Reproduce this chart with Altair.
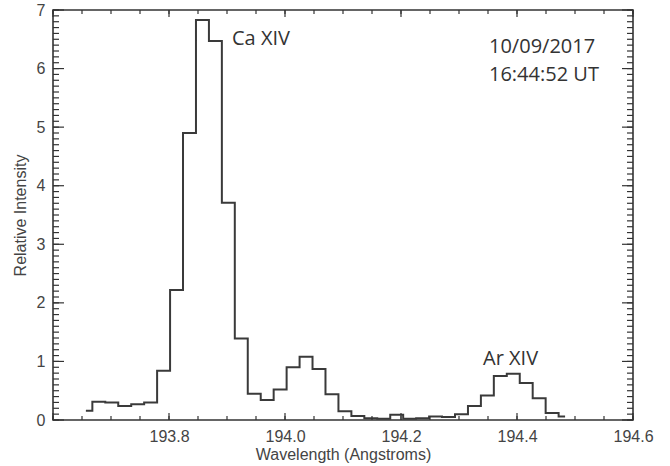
import altair as alt
import pandas as pd

# Spectrum (bin centres, Angstrom) and relative intensity
wavelength = [193.6567, 193.6790, 193.7013, 193.7237, 193.7460, 193.7683, 193.7907,
              193.8130, 193.8353, 193.8577, 193.8800, 193.9023, 193.9246, 193.9470,
              193.9693, 193.9916, 194.0140, 194.0363, 194.0586, 194.0810, 194.1033,
              194.1256, 194.1479, 194.1703, 194.1926, 194.2149, 194.2373, 194.2596,
              194.2819, 194.3043, 194.3266, 194.3489, 194.3712, 194.3936, 194.4159,
              194.4382, 194.4606, 194.4829]
intensity = [0.16, 0.31, 0.30, 0.24, 0.27, 0.30, 0.84, 2.22, 4.90, 6.83, 6.47, 3.71,
             1.39, 0.45, 0.34, 0.52, 0.90, 1.08, 0.87, 0.44, 0.15, 0.07, 0.03, 0.02,
             0.09, 0.02, 0.03, 0.06, 0.05, 0.10, 0.24, 0.42, 0.75, 0.79, 0.63, 0.37,
             0.12, 0.06]

# Axis ticks / labels
x_labels = [193.8, 194.0, 194.2, 194.4, 194.6]
x_major = [193.6, 193.8, 194.0, 194.2, 194.4, 194.6]
x_minor = [round(193.6 + i * 0.05, 2) for i in range(21)]
y_major = [0, 1, 2, 3, 4, 5, 6, 7]
y_minor = [round(i * 0.1, 1) for i in range(71)]

# Annotations
ann_text = ["Ca XIV", "Ar XIV", "10/09/2017", "16:44:52 UT"]
ann_x = [193.9086, 194.3414, 194.3517, 194.3517]
ann_y = [6.40, 0.94, 6.27, 5.79]

df = pd.DataFrame({"wavelength": wavelength, "intensity": intensity})
ann = pd.DataFrame({"x": ann_x, "y": ann_y, "t": ann_text})

xs = alt.Scale(domain=[193.6, 194.6], nice=False, zero=False)
ys = alt.Scale(domain=[0, 7], nice=False, zero=False)

W, H = 580, 410
INK = "#333333"

xaxis = alt.Axis(title="Wavelength (Angstroms)", values=x_labels, format=".1f",
                 ticks=False, domain=False, grid=False,
                 labelFlush=False, labelPadding=8, titlePadding=2)
yaxis = alt.Axis(title="Relative Intensity", values=y_major, format="d",
                 ticks=False, domain=False, grid=False,
                 labelPadding=8, titlePadding=8)

line = alt.Chart(df).mark_line(interpolate="step", color="#3a3a3a", strokeWidth=2).encode(
    x=alt.X("wavelength:Q", scale=xs, axis=xaxis),
    y=alt.Y("intensity:Q", scale=ys, axis=yaxis),
)


def ytick(vals, x0, x1):
    return alt.Chart(pd.DataFrame({"v": vals})).mark_rule(color=INK, strokeWidth=1.2).encode(
        y=alt.Y("v:Q", scale=ys, axis=yaxis), x=alt.value(x0), x2=alt.value(x1))


def xtick(vals, y0, y1):
    return alt.Chart(pd.DataFrame({"v": vals})).mark_rule(color=INK, strokeWidth=1.2).encode(
        x=alt.X("v:Q", scale=xs, axis=xaxis), y=alt.value(y0), y2=alt.value(y1))


ticks = [
    ytick(y_minor, 0, 6), ytick(y_major, 0, 11),
    ytick(y_minor, W, W - 6), ytick(y_major, W, W - 11),
    xtick(x_minor, H, H - 4), xtick(x_major, H, H - 7),
    xtick(x_minor, 0, 4), xtick(x_major, 0, 7),
]

text = alt.Chart(ann).mark_text(align="left", baseline="alphabetic", font="Open Sans",
                                fontSize=20, color=INK).encode(
    x=alt.X("x:Q", scale=xs, axis=xaxis),
    y=alt.Y("y:Q", scale=ys, axis=yaxis),
    text="t:N",
)

chart = alt.layer(line, *ticks, text).properties(
    width=W, height=H,
    padding={"left": 53, "top": 10, "right": 37, "bottom": 46},
    autosize=alt.AutoSizeParams(type="none"),
    background="white",
).configure_view(stroke=INK, strokeWidth=1.6).configure_axis(
    labelFont="Liberation Sans", labelFontSize=16, labelColor="#444444",
    titleFont="Liberation Sans", titleFontSize=16, titleColor="#444444",
    titleFontWeight="normal",
)

chart.save("out.html", embed_options={"renderer": "svg", "actions": False})
